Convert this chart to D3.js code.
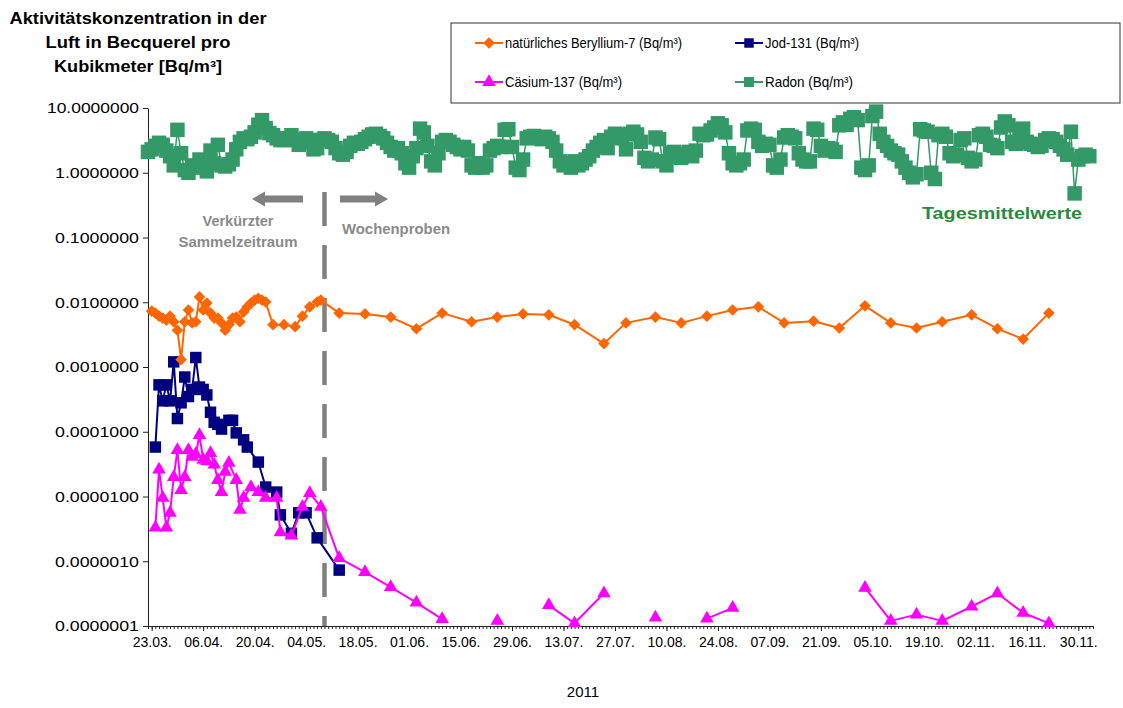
<!DOCTYPE html>
<html><head><meta charset="utf-8">
<script src="https://cdn.jsdelivr.net/npm/d3@7"></script>
<style>
body{margin:0;background:#fff;}
svg{display:block;font-family:"Liberation Sans",Arial,Helvetica,sans-serif;}
</style>
</head><body>
<svg id="chart" width="1123" height="708"></svg>
<script>
// ---------------- DATA ----------------
const titleLines = ["Aktivitätskonzentration in der", "Luft in Becquerel pro", "Kubikmeter [Bq/m³]"];
const xAxisTitle = "2011";
const yTickValues = [10, 1, 0.1, 0.01, 0.001, 0.0001, 0.00001, 0.000001, 0.0000001];
const xLabelDates = ["2011-03-23","2011-04-06","2011-04-20","2011-05-04","2011-05-18","2011-06-01","2011-06-15","2011-06-29","2011-07-13","2011-07-27","2011-08-10","2011-08-24","2011-09-07","2011-09-21","2011-10-05","2011-10-19","2011-11-02","2011-11-16","2011-11-30"];
const xDomain = ["2011-03-22", "2011-12-04"];
const dividerDate = "2011-05-09";

const seriesNames = ["natürliches Beryllium-7 (Bq/m³)", "Jod-131 (Bq/m³)", "Cäsium-137 (Bq/m³)", "Radon (Bq/m³)"];

// Beryllium-7
const beDates = ["2011-03-23","2011-03-24","2011-03-25","2011-03-26","2011-03-27","2011-03-28","2011-03-29","2011-03-30","2011-03-31","2011-04-01","2011-04-02","2011-04-03","2011-04-04","2011-04-05","2011-04-06","2011-04-07","2011-04-08","2011-04-09","2011-04-10","2011-04-11","2011-04-12","2011-04-13","2011-04-14","2011-04-15","2011-04-16","2011-04-17","2011-04-18","2011-04-19","2011-04-20","2011-04-21","2011-04-22","2011-04-23","2011-04-25","2011-04-28","2011-05-01","2011-05-03","2011-05-05","2011-05-07","2011-05-08",
  "2011-05-13","2011-05-20","2011-05-27","2011-06-03","2011-06-10","2011-06-18","2011-06-25","2011-07-02","2011-07-09","2011-07-16","2011-07-24","2011-07-30","2011-08-07","2011-08-14","2011-08-21","2011-08-28","2011-09-04","2011-09-11","2011-09-19","2011-09-26","2011-10-03","2011-10-10","2011-10-17","2011-10-24","2011-11-01","2011-11-08","2011-11-15","2011-11-22"];
const beValues = [0.0073,0.0068,0.0061,0.0057,0.0053,0.0061,0.0050,0.0037,0.0013,0.0050,0.0076,0.0048,0.0050,0.0121,0.0076,0.0097,0.0068,0.0057,0.0057,0.0048,0.0037,0.0045,0.0057,0.0059,0.0050,0.0071,0.0085,0.0097,0.0108,0.0115,0.0108,0.0101,0.0045,0.0045,0.0042,0.0061,0.0085,0.0101,0.0108,
  0.0068,0.0066,0.0059,0.0039,0.0068,0.0050,0.0059,0.0066,0.0064,0.0045,0.0023,0.0048,0.0059,0.0048,0.0061,0.0076,0.0085,0.0048,0.0051,0.0040,0.0088,0.0048,0.0040,0.0050,0.0064,0.0039,0.0027,0.0068];

// Jod-131
const jodDates = ["2011-03-24","2011-03-25","2011-03-26","2011-03-27","2011-03-28","2011-03-29","2011-03-30","2011-03-31","2011-04-01","2011-04-02","2011-04-03","2011-04-04","2011-04-05","2011-04-06","2011-04-07","2011-04-08","2011-04-09","2011-04-10","2011-04-11","2011-04-13","2011-04-14","2011-04-15","2011-04-17","2011-04-18","2011-04-21","2011-04-23","2011-04-26","2011-04-27","2011-04-30","2011-05-02","2011-05-04","2011-05-07","2011-05-13"];
const jodValues = [5.8e-5,5.3e-4,3.0e-4,5.3e-4,3.0e-4,1.2e-3,1.6e-4,2.8e-4,7.0e-4,3.5e-4,4.5e-4,1.4e-3,4.9e-4,4.5e-4,3.7e-4,2.0e-4,1.4e-4,1.3e-4,1.1e-4,1.5e-4,1.5e-4,9.6e-5,7.5e-5,5.8e-5,3.4e-5,1.4e-5,1.17e-5,5.2e-6,2.7e-6,5.6e-6,5.6e-6,2.3e-6,7.3e-7];

// Cäsium-137 (null = no value)
const csDates = ["2011-03-24","2011-03-25","2011-03-26","2011-03-27","2011-03-28","2011-03-29","2011-03-30","2011-03-31","2011-04-01","2011-04-02","2011-04-03","2011-04-04","2011-04-05","2011-04-06","2011-04-07","2011-04-08","2011-04-09","2011-04-10","2011-04-11","2011-04-12","2011-04-13","2011-04-15","2011-04-16","2011-04-17","2011-04-19","2011-04-21","2011-04-23","2011-04-26","2011-04-27","2011-04-30","2011-05-03","2011-05-05","2011-05-08",
  "2011-05-13","2011-05-20","2011-05-27","2011-06-03","2011-06-10","2011-06-18","2011-06-25","2011-07-02","2011-07-09","2011-07-16","2011-07-24","2011-07-30","2011-08-07","2011-08-14","2011-08-21","2011-08-28","2011-09-04","2011-09-11","2011-09-19","2011-09-26","2011-10-03","2011-10-10","2011-10-17","2011-10-24","2011-11-01","2011-11-08","2011-11-15","2011-11-22"];
const csValues = [3.3e-6,2.6e-5,9.5e-6,3.3e-6,5.6e-6,2.0e-5,5.2e-5,1.26e-5,2.0e-5,5.2e-5,4.1e-5,4.5e-5,8.9e-5,3.7e-5,3.5e-5,4.7e-5,3.1e-5,1.8e-5,1.17e-5,2.4e-5,3.3e-5,1.8e-5,6.2e-6,9.5e-6,1.4e-5,1.17e-5,9.5e-6,9.5e-6,2.8e-6,2.5e-6,6.9e-6,1.13e-5,6.9e-6,
  1.12e-6,6.8e-7,4.0e-7,2.3e-7,1.28e-7,null,1.2e-7,null,2.1e-7,1.1e-7,3.2e-7,null,1.35e-7,null,1.3e-7,1.9e-7,null,null,null,null,3.9e-7,1.2e-7,1.5e-7,1.2e-7,2.0e-7,3.2e-7,1.6e-7,1.1e-7];

// Radon: daily means starting at radonStart
const radonStart = "2011-03-22";
const radonValues = [
  2.1,2.3,2.6,2.9,2.7,2.2,1.8,1.3,4.6,2.0,
  1.1,1.0,1.3,1.2,1.6,1.3,1.05,2.2,1.4,2.7,
  1.3,1.25,1.35,1.6,2.3,3.0,3.4,3.3,3.6,4.2,
  5.5,6.5,4.9,4.1,3.8,3.4,3.2,3.2,3.4,3.8,
  3.2,2.7,3.0,3.4,3.2,2.3,2.4,3.2,3.4,3.2,
  3.0,2.4,2.0,1.9,2.1,2.6,2.9,2.8,3.0,3.3,
  3.6,3.9,4.0,3.7,3.4,2.9,2.5,2.2,2.4,2.0,
  1.4,1.2,1.8,2.4,4.8,4.2,2.6,1.5,1.3,2.0,
  3.0,3.2,3.0,2.7,2.5,2.3,2.5,2.2,1.3,1.2,
  1.4,1.2,1.3,2.2,2.4,2.6,2.5,4.6,4.7,2.5,
  1.2,1.1,1.6,3.4,3.6,3.7,3.5,3.3,3.6,3.4,
  3.0,2.2,1.5,1.3,1.4,1.2,1.5,1.3,1.4,1.6,
  1.8,2.2,2.5,2.9,3.2,2.4,3.6,4.0,3.8,3.4,
  2.3,4.0,4.3,3.9,3.0,1.7,1.5,1.6,3.5,3.3,
  1.5,1.3,2.0,2.1,1.8,1.7,1.9,2.1,1.8,2.2,
  4.0,3.8,3.9,4.5,5.0,5.8,5.4,4.2,2.0,1.4,
  1.3,1.4,1.6,4.5,4.8,4.6,3.0,2.6,2.8,2.7,
  1.3,1.2,1.6,3.5,3.8,3.6,3.4,2.0,1.6,1.5,
  1.5,4.8,4.6,2.6,2.2,2.4,2.3,2.1,5.4,6.0,
  5.5,6.8,7.2,6.5,1.2,1.1,1.3,7.5,8.8,4.0,
  3.0,2.6,2.2,2.0,1.9,1.5,1.2,1.0,0.85,0.95,
  4.7,4.5,4.3,1.0,0.8,3.8,4.0,3.6,2.0,1.8,
  1.9,3.2,3.4,1.7,1.5,1.6,3.8,4.0,3.6,2.7,
  2.6,2.4,5.0,6.2,5.4,3.0,2.8,4.6,4.8,3.0,
  2.8,2.7,2.5,2.6,3.2,3.4,3.3,3.0,2.6,2.3,
  1.9,4.3,0.48,1.6,1.8,1.9,1.8
];

// ---------------- STYLE ----------------
const colors = {be: "#FF6600", jod: "#000080", cs: "#FF00FF", radon: "#339966"};
const grey = "#808080";

// ---------------- SCALES ----------------
const parse = d3.utcParse("%Y-%m-%d");
const svg = d3.select("#chart");
const x = d3.scaleUtc().domain(xDomain.map(parse)).range([148, 1093]);
const y = d3.scaleLog().domain([1e-7, 10]).range([626, 108]);

const mk = (dates, vals) => dates.map((d, i) => ({date: parse(d), v: vals[i]}));
const beData = mk(beDates, beValues);
const jodData = mk(jodDates, jodValues);
const csData = mk(csDates, csValues);
const radonData = radonValues.map((v, i) => ({date: d3.utcDay.offset(parse(radonStart), i), v}));

const line = d3.line().defined(d => d.v != null).x(d => x(d.date)).y(d => y(d.v));

// ---------------- TITLE ----------------
const titleLens = [257, 185, 168];
svg.append("g").selectAll("text").data(titleLines).join("text")
  .attr("x", 138).attr("y", (d, i) => 24 + i * 24)
  .attr("text-anchor", "middle").attr("font-size", 16).attr("font-weight", "bold")
  .attr("textLength", (d, i) => titleLens[i]).attr("lengthAdjust", "spacingAndGlyphs")
  .attr("fill", "#000").text(d => d);

// ---------------- AXES ----------------
const yAxis = svg.append("g").attr("transform", "translate(148,0)")
  .call(d3.axisLeft(y).tickValues(yTickValues).tickFormat(d3.format(".7f")).tickSize(5).tickSizeOuter(0).tickPadding(4));
yAxis.selectAll("text").attr("font-size", 15).attr("fill", "#000").attr("font-family", null)
  .attr("textLength", d => d >= 10 ? 92 : 84).attr("lengthAdjust", "spacingAndGlyphs");
yAxis.selectAll("path,line").attr("stroke", "#222");

const xMinor = svg.append("g").attr("transform", "translate(0,626)")
  .call(d3.axisBottom(x).ticks(d3.utcDay.every(1)).tickFormat("").tickSize(3).tickSizeOuter(0));
xMinor.selectAll("path,line").attr("stroke", "#222");
const xMajor = svg.append("g").attr("transform", "translate(0,626)")
  .call(d3.axisBottom(x).tickValues(xLabelDates.map(parse)).tickFormat(d3.utcFormat("%d.%m.")).tickSize(5).tickSizeOuter(0).tickPadding(6));
xMajor.select(".domain").remove();
xMajor.selectAll("line").attr("stroke", "#222");
xMajor.selectAll("text").attr("font-size", 14).attr("fill", "#000").attr("font-family", null);

svg.append("text").attr("x", 583).attr("y", 697).attr("text-anchor", "middle")
  .attr("font-size", 15).attr("fill", "#000").text(xAxisTitle);

// ---------------- ANNOTATIONS ----------------
const xd = x(parse(dividerDate));
svg.append("line").attr("x1", xd).attr("x2", xd).attr("y1", 192).attr("y2", 626)
  .attr("stroke", grey).attr("stroke-width", 4.5).attr("stroke-dasharray", "34,19");

function arrow(x0, x1, yc) { // from x0 (tail) to x1 (head)
  const dir = Math.sign(x1 - x0), hl = 13, sh = 3.5, hh = 7.5;
  const xb = x1 - dir * hl;
  return `M${x0},${yc - sh}L${xb},${yc - sh}L${xb},${yc - hh}L${x1},${yc}L${xb},${yc + hh}L${xb},${yc + sh}L${x0},${yc + sh}Z`;
}
svg.append("path").attr("d", arrow(xd - 21.5, xd - 72.5, 199)).attr("fill", grey);
svg.append("path").attr("d", arrow(xd + 15.5, xd + 63.5, 199)).attr("fill", grey);

svg.append("text").attr("x", 238).attr("y", 226).attr("text-anchor", "middle")
  .attr("font-size", 14).attr("font-weight", "bold").attr("fill", "#8a8a8a")
  .attr("textLength", 71).attr("lengthAdjust", "spacingAndGlyphs").text("Verkürzter");
svg.append("text").attr("x", 238).attr("y", 247).attr("text-anchor", "middle")
  .attr("font-size", 14).attr("font-weight", "bold").attr("fill", "#8a8a8a")
  .attr("textLength", 119).attr("lengthAdjust", "spacingAndGlyphs").text("Sammelzeitraum");
svg.append("text").attr("x", 342).attr("y", 234)
  .attr("font-size", 14).attr("font-weight", "bold").attr("fill", "#8a8a8a")
  .attr("textLength", 108).attr("lengthAdjust", "spacingAndGlyphs").text("Wochenproben");
svg.append("text").attr("x", 922).attr("y", 219)
  .attr("font-size", 17).attr("font-weight", "bold").attr("fill", "#2a8a3c")
  .attr("textLength", 160).attr("lengthAdjust", "spacingAndGlyphs").text("Tagesmittelwerte");

// ---------------- SERIES ----------------
const symSquareR = d3.symbol().type(d3.symbolSquare).size(210)();
const symSquareJ = d3.symbol().type(d3.symbolSquare).size(132)();
const symDiamond = d3.symbol().type(d3.symbolSquare).size(68)();
const symTri = d3.symbol().type(d3.symbolTriangle).size(80)();

function drawSeries(data, color, width, symPath, rotate) {
  const g = svg.append("g");
  g.append("path").datum(data).attr("d", line).attr("fill", "none")
    .attr("stroke", color).attr("stroke-width", width).attr("stroke-linejoin", "round");
  g.selectAll("path.m").data(data.filter(d => d.v != null)).join("path").attr("class", "m")
    .attr("d", symPath).attr("fill", color)
    .attr("transform", d => `translate(${x(d.date)},${y(d.v)})${rotate ? " rotate(45)" : ""}`);
}
drawSeries(radonData, colors.radon, 1.5, symSquareR, false);
drawSeries(jodData, colors.jod, 2, symSquareJ, false);
drawSeries(csData, colors.cs, 2, symTri, false);
drawSeries(beData, colors.be, 2, symDiamond, true);

// ---------------- LEGEND ----------------
svg.append("rect").attr("x", 451).attr("y", 23).attr("width", 669).attr("height", 80)
  .attr("fill", "#fff").attr("stroke", "#333").attr("stroke-width", 1);
const legendItems = [
  {name: seriesNames[0], color: colors.be, sym: symDiamond, rot: true, lx: 475, ly: 43, tl: 177},
  {name: seriesNames[1], color: colors.jod, sym: d3.symbol().type(d3.symbolSquare).size(90)(), rot: false, lx: 735, ly: 43, tl: 94},
  {name: seriesNames[2], color: colors.cs, sym: symTri, rot: false, lx: 475, ly: 82, tl: 117},
  {name: seriesNames[3], color: colors.radon, sym: d3.symbol().type(d3.symbolSquare).size(100)(), rot: false, lx: 735, ly: 82, tl: 88}
];
const lg = svg.append("g").selectAll("g").data(legendItems).join("g");
lg.append("line").attr("x1", d => d.lx).attr("x2", d => d.lx + 28).attr("y1", d => d.ly).attr("y2", d => d.ly)
  .attr("stroke", d => d.color).attr("stroke-width", 2);
lg.append("path").attr("d", d => d.sym).attr("fill", d => d.color)
  .attr("transform", d => `translate(${d.lx + 14},${d.ly})${d.rot ? " rotate(45)" : ""}`);
lg.append("text").attr("x", d => d.lx + 30).attr("y", d => d.ly + 5)
  .attr("font-size", 14.5).attr("fill", "#000")
  .attr("textLength", d => d.tl).attr("lengthAdjust", "spacingAndGlyphs").text(d => d.name);
</script>
</body></html>
